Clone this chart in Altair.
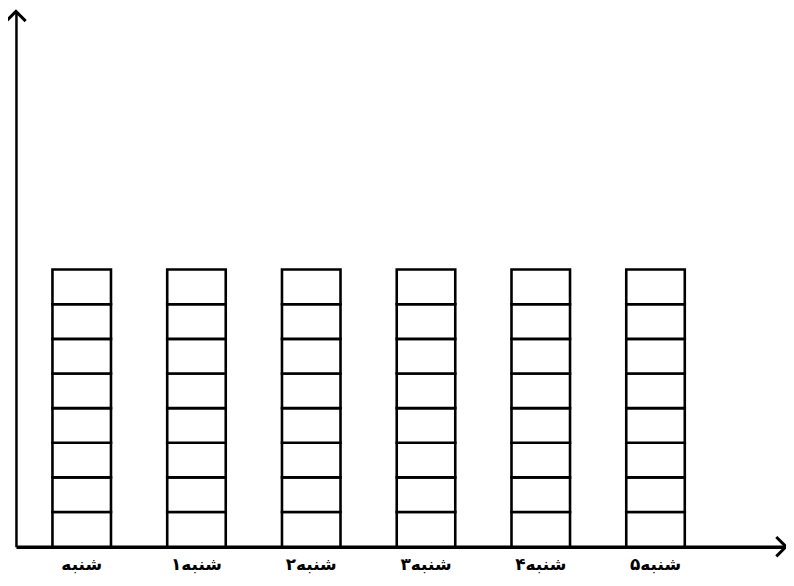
import altair as alt
import pandas as pd

days = ["شنبه", "۱شنبه", "۲شنبه", "۳شنبه", "۴شنبه", "۵شنبه"]
counts = [8, 8, 8, 8, 8, 8]

rows = []
for d, c in zip(days, counts):
    for i in range(c):
        rows.append({"day": d, "lo": i, "hi": i + 1})
df = pd.DataFrame(rows)

W, H = 774, 538

xscale = alt.Scale(domain=days, paddingInner=0.49, paddingOuter=0.6, align=0.265)
yscale = alt.Scale(domain=[0, 15.45], nice=False)

bars = alt.Chart(df).mark_bar(fill="white", stroke="black", strokeWidth=2.6).encode(
    x=alt.X("day:N", scale=xscale, sort=days, title=None,
            axis=alt.Axis(labelAngle=0, ticks=False, labelFont="DejaVu Sans",
                          labelFontWeight="bold", labelFontSize=17, labelColor="black",
                          labelPadding=10, domainColor="black", domainWidth=3.5)),
    y=alt.Y("lo:Q", scale=yscale, title=None,
            axis=alt.Axis(labels=False, ticks=False, grid=False,
                          domainColor="black", domainWidth=2.5)),
    y2="hi:Q",
)

one = pd.DataFrame({"a": [0]})
up_arrow = alt.Chart(one).mark_point(
    shape="M-1,1L0,0L1,1", filled=False, stroke="black", strokeWidth=3, size=380, opacity=1
).encode(x=alt.value(0), y=alt.value(0))
right_arrow = alt.Chart(one).mark_point(
    shape="M-1,-1L0,0L-1,1", filled=False, stroke="black", strokeWidth=3, size=380, opacity=1
).encode(x=alt.value(W), y=alt.value(H))

chart = alt.layer(bars, up_arrow, right_arrow).properties(
    width=W, height=H,
    autosize="none",
    padding={"left": 8, "top": 2, "right": 0, "bottom": 30},
    background="white",
).configure_view(stroke=None).configure_axis(grid=False)

chart.save("out.html", embed_options={"renderer": "svg", "actions": False})
